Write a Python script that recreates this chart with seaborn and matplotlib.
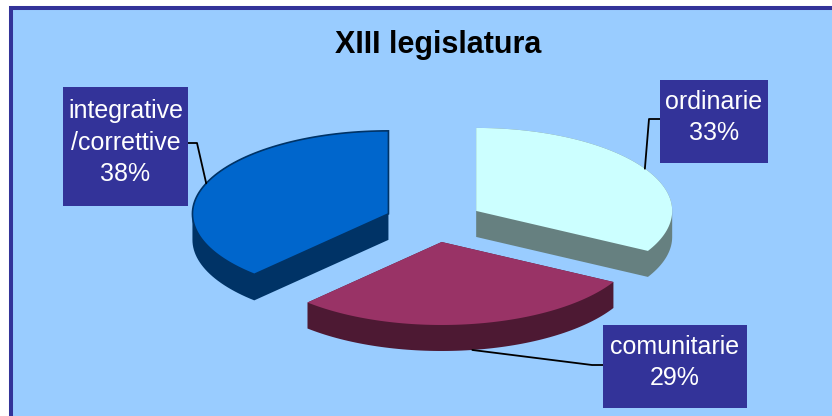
import numpy as np
import matplotlib
matplotlib.use("Agg")
import matplotlib.pyplot as plt
import seaborn as sns
from matplotlib.patches import Polygon, Rectangle

# DATA

labels = ["ordinarie", "comunitarie", "integrative\n/correttive"]
shares = [33, 29, 38]
top_colors = ["#CCFFFF", "#993366", "#0066CC"]
side_colors = ["#668080", "#4D1933", "#003366"]
title = "XIII legislatura"

# label boxes (x0, y0, x1, y1) in pixels and the y of the leader elbow
boxes = [(660, 80, 768, 163), (603, 325, 747, 408), (63, 87, 188, 206)]
elbow_y = [119, 365, 143]

# pie geometry in pixels
cx, cy = 434, 221.5
rx, ry = 196, 83
depth = 26
explode = 0.25


def hull(pts):
    pts = sorted(set(map(tuple, np.round(pts, 3))))
    def cross(o, a, b):
        return (a[0] - o[0]) * (b[1] - o[1]) - (a[1] - o[1]) * (b[0] - o[0])
    lower, upper = [], []
    for p in pts:
        while len(lower) >= 2 and cross(lower[-2], lower[-1], p) <= 0:
            lower.pop()
        lower.append(p)
    for p in reversed(pts):
        while len(upper) >= 2 and cross(upper[-2], upper[-1], p) <= 0:
            upper.pop()
        upper.append(p)
    return np.array(lower[:-1] + upper[:-1])


sns.set_style("white")
plt.rcParams['font.family'] = ['Liberation Sans', 'DejaVu Sans']

fig = plt.figure(figsize=(8.32, 4.16), dpi=100, facecolor="white")
ax = fig.add_axes([0, 0, 1, 1])
ax.set_xlim(0, 832)
ax.set_ylim(416, 0)
ax.axis("off")

# chart area with border
ax.add_patch(Rectangle((10.5, 8), 900, 500, facecolor="#99CCFF",
                       edgecolor="#333399", linewidth=2.9, zorder=0))

ax.text(438, 45, title, ha="center", va="center", fontsize=22,
        fontweight="bold", color="black")

fractions = np.array(shares) / np.sum(shares)
starts = 90 - 360 * np.concatenate([[0], np.cumsum(fractions)[:-1]])
ends = starts - 360 * fractions

# draw back slices first, front slice last
order = [2, 0, 1]
for i in order:
    a1, a2 = np.radians(starts[i]), np.radians(ends[i])
    mid = (a1 + a2) / 2
    ox = cx + explode * rx * np.cos(mid)
    oy = cy - explode * ry * np.sin(mid)
    t = np.linspace(a1, a2, 80)
    arc = np.column_stack([ox + rx * np.cos(t), oy - ry * np.sin(t)])
    top = np.vstack([[ox, oy], arc])
    bottom = top + [0, depth]
    side = hull(np.vstack([top, bottom]))
    ax.add_patch(Polygon(side, closed=True, facecolor=side_colors[i],
                         edgecolor="none", zorder=2))
    ax.add_patch(Polygon(top, closed=True, facecolor=top_colors[i],
                         edgecolor="#003366" if i == 2 else "none",
                         linewidth=1.2, zorder=3))

    # leader line from slice to label box
    ax_pt = ox + rx * np.cos(mid)
    ay_pt = oy - ry * np.sin(mid)
    if np.sin(mid) < 0:
        ay_pt += depth
    x0, y0, x1, y1 = boxes[i]
    if ax_pt < x0:
        edge, elbow = x0, x0 - 11
    else:
        edge, elbow = x1, x1 + 9
    ax.plot([ax_pt, elbow, edge], [ay_pt, elbow_y[i], elbow_y[i]],
            color="black", linewidth=1.3, zorder=4)

    # label box
    ax.add_patch(Rectangle((x0, y0), x1 - x0, y1 - y0, facecolor="#333399",
                           edgecolor="none", zorder=5))
    ax.text((x0 + x1) / 2, (y0 + y1) / 2 - 4,
            f"{labels[i]}\n{fractions[i] * 100:.0f}%",
            ha="center", va="center", multialignment="center",
            fontsize=18, color="white", linespacing=1.38, zorder=6)

fig.savefig("out.png", dpi=100, facecolor="white")
